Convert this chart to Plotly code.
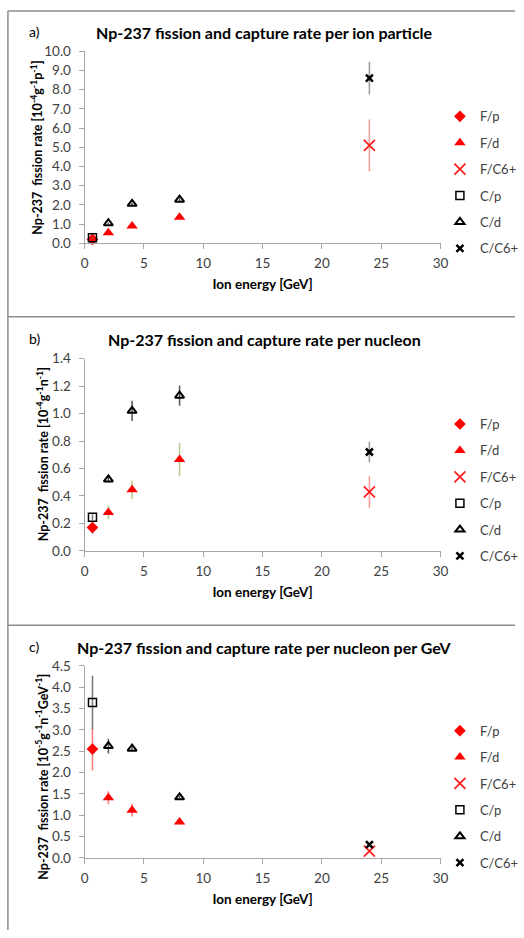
import plotly.graph_objects as go

W, H = 524, 938

# ---------------- data ----------------
series_names = ["F/p", "F/d", "F/C6+", "C/p", "C/d", "C/C6+"]

E_p = [0.66]
E_d = [2, 4, 8]
E_c = [24]

# panel a: per ion particle [1e-4 g^-1 p^-1]
a_Fp, a_Fp_err = [0.20], [0.03]
a_Fd, a_Fd_err = [0.55, 0.90, 1.35], [0.04, 0.06, 0.08]
a_FC, a_FC_err = [5.10], [1.35]
a_Cp, a_Cp_err = [0.28], [0.03]
a_Cd, a_Cd_err = [1.04, 2.05, 2.27], [0.04, 0.06, 0.07]
a_CC, a_CC_err = [8.60], [0.85]

# panel b: per nucleon [1e-4 g^-1 n^-1]
b_Fp, b_Fp_err = [0.17], [0.05]
b_Fd, b_Fd_err = [0.28, 0.445, 0.665], [0.05, 0.068, 0.12]
b_FC, b_FC_err = [0.43], [0.116]
b_Cp, b_Cp_err = [0.245], [0.02]
b_Cd, b_Cd_err = [0.52, 1.02, 1.13], [0.02, 0.074, 0.074]
b_CC, b_CC_err = [0.72], [0.074]

# panel c: per nucleon per GeV [1e-5 g^-1 n^-1 GeV^-1]
c_Fp, c_Fp_err = [2.55], [0.50]
c_Fd, c_Fd_err = [1.41, 1.12, 0.84], [0.15, 0.15, 0.05]
c_FC, c_FC_err = [0.16], [0.03]
c_Cp, c_Cp_err = [3.64], [0.63]
c_Cd, c_Cd_err = [2.62, 2.56, 1.42], [0.17, 0.05, 0.03]
c_CC, c_CC_err = [0.31], [0.03]

titles = ["Np-237 fission and capture rate per ion particle",
          "Np-237 fission and capture rate per nucleon",
          "Np-237 fission and capture rate per nucleon per GeV"]
labels = ["a)", "b)", "c)"]
ytitles = ["Np-237  fission rate [10<sup>-4</sup>g<sup>-1</sup>p<sup>-1</sup>]",
           "Np-237  fission rate [10<sup>-4</sup>g<sup>-1</sup>n<sup>-1</sup>]",
           "Np-237  fission rate [10<sup>-5</sup>g<sup>-1</sup>n<sup>-1</sup>GeV<sup>-1</sup>]"]
xtitle = "Ion energy [GeV]"
yranges = [[0, 10], [0, 1.4], [0, 4.5]]
ydtick = [1.0, 0.2, 0.5]
ytickformat = [".1f", ".1f", ".1f"]
xrange_ = [0, 30]

FONT = "Lato, Carlito, Calibri, sans-serif"
TXT = "#404040"

# ---------------- layout geometry (pixels) ----------------
px_x0, px_x1 = 82.7, 447.7
panel_y = [(44, 239.3), (356.7, 552.3), (669.3, 864.7)]
title_y = [25, 337, 651]
legend_top = [95, 408, 720]
ytitle_pos = [(33, 142), (39, 454), (39, 782)]

def py(v):
    return 1 - v / H

fig = go.Figure()

panels = [
    (a_Fp, a_Fp_err, a_Fd, a_Fd_err, a_FC, a_FC_err, a_Cp, a_Cp_err, a_Cd, a_Cd_err, a_CC, a_CC_err),
    (b_Fp, b_Fp_err, b_Fd, b_Fd_err, b_FC, b_FC_err, b_Cp, b_Cp_err, b_Cd, b_Cd_err, b_CC, b_CC_err),
    (c_Fp, c_Fp_err, c_Fd, c_Fd_err, c_FC, c_FC_err, c_Cp, c_Cp_err, c_Cd, c_Cd_err, c_CC, c_CC_err),
]

fp_err_col = ["#ff9999", "#9dc3e6", "#ff7777"]
fd_err_col = ["#ff9999", "#b5c98a", "#ff7777"]

for i, p in enumerate(panels):
    Fp, Fpe, Fd, Fde, FC, FCe, Cp, Cpe, Cd, Cde, CC, CCe = p
    xa = "x" if i == 0 else f"x{i+1}"
    ya = "y" if i == 0 else f"y{i+1}"
    lg = "legend" if i == 0 else f"legend{i+1}"
    specs = [
        (E_p, Fp, Fpe, dict(symbol="diamond", size=9, color="#ff0000"), fp_err_col[i]),
        (E_d, Fd, Fde, dict(symbol="triangle-up", size=10, color="#ff0000"), fd_err_col[i]),
        (E_c, FC, FCe, dict(symbol="x-thin-open", size=11, color="#ff2020",
                            line=dict(width=1.8, color="#ff2020")), "#ff9999"),
        (E_p, Cp, Cpe, dict(symbol="square-open", size=8, color="#000000",
                            line=dict(width=1.5, color="#000000")), "#777777"),
        (E_d, Cd, Cde, dict(symbol="triangle-up-open", size=8, color="#000000",
                            line=dict(width=2, color="#000000")), "#555555"),
        (E_c, CC, CCe, dict(symbol="x-thin-open", size=7, color="#000000",
                            line=dict(width=2.5, color="#000000")), "#999999"),
    ]
    for k, (xs, ys, es, mk, ecol) in enumerate(specs):
        fig.add_trace(go.Scatter(
            x=xs, y=ys, mode="markers", name=series_names[k],
            marker=mk, xaxis=xa, yaxis=ya, legend=lg,
            legendgroup=f"g{i}_{k}",
            error_y=dict(type="data", array=es, visible=True,
                         color=ecol, thickness=1.5, width=0),
            cliponaxis=False,
        ))

layout = dict(
    width=W, height=H,
    margin=dict(l=0, r=0, t=0, b=0),
    paper_bgcolor="white", plot_bgcolor="white",
    font=dict(family=FONT, size=13, color=TXT),
    showlegend=True,
)

for i in range(3):
    sfx = "" if i == 0 else str(i + 1)
    y0, y1 = panel_y[i]
    layout["xaxis" + sfx] = dict(
        domain=[px_x0 / W, px_x1 / W], anchor="y" + sfx,
        range=xrange_, dtick=5, tick0=0,
        showgrid=False, zeroline=False,
        showline=True, linecolor="#a6a6a6", linewidth=1,
        ticks="outside", ticklen=5, tickcolor="#a6a6a6",
        tickfont=dict(family=FONT, size=13.5, color=TXT),
        ticklabelstandoff=3,
        title=dict(text=f"<b>{xtitle}</b>", font=dict(family=FONT, size=13.5, color="#000000"),
                   standoff=9),
    )
    layout["yaxis" + sfx] = dict(
        domain=[py(y1), py(y0)], anchor="x" + sfx,
        range=yranges[i], dtick=ydtick[i], tick0=0, tickformat=ytickformat[i],
        showgrid=False, zeroline=False,
        showline=True, linecolor="#a6a6a6", linewidth=1,
        ticks="outside", ticklen=5, tickcolor="#a6a6a6",
        tickfont=dict(family=FONT, size=13.5, color=TXT),
        ticklabelstandoff=5,
    )
    lgkey = "legend" if i == 0 else f"legend{i+1}"
    layout[lgkey] = dict(
        x=447 / W, xanchor="left", y=py(legend_top[i]), yanchor="top",
        font=dict(family=FONT, size=13, color=TXT),
        bgcolor="rgba(0,0,0,0)", tracegroupgap=6.5, itemwidth=30,
    )

fig.update_layout(**layout)

# panel titles, labels and y-axis titles
for i in range(3):
    fig.add_annotation(text=f"<b>{titles[i]}</b>", xref="paper", yref="paper",
                       x=267.5 / W, y=py(title_y[i]), xanchor="center", yanchor="middle",
                       showarrow=False, font=dict(family=FONT, size=16, color="#000000"))
    fig.add_annotation(text=labels[i], xref="paper", yref="paper",
                       x=24 / W, y=py(title_y[i] - 1), xanchor="left", yanchor="middle",
                       showarrow=False, font=dict(family=FONT, size=14, color="#000000"))
    tx, ty = ytitle_pos[i]
    fig.add_annotation(text=f"<b>{ytitles[i]}</b>", xref="paper", yref="paper",
                       x=tx / W, y=py(ty), xanchor="center", yanchor="middle",
                       textangle=-90, showarrow=False,
                       font=dict(family=FONT, size=12.5, color="#000000"))

# panel frames
frame_col = "#8c8c8c"
fig.add_shape(type="line", xref="paper", yref="paper", x0=4 / W, x1=4 / W,
              y0=py(3), y1=py(H), line=dict(color=frame_col, width=1.5))
for yy in [3, 314, 628]:
    fig.add_shape(type="line", xref="paper", yref="paper", x0=4 / W, x1=1,
                  y0=py(yy), y1=py(yy), line=dict(color=frame_col, width=1.5))

fig.write_html("out.html",
               config={"displayModeBar": False},
               post_script="document.body.style.margin='0px';"
                           "document.body.style.overflow='hidden';")
